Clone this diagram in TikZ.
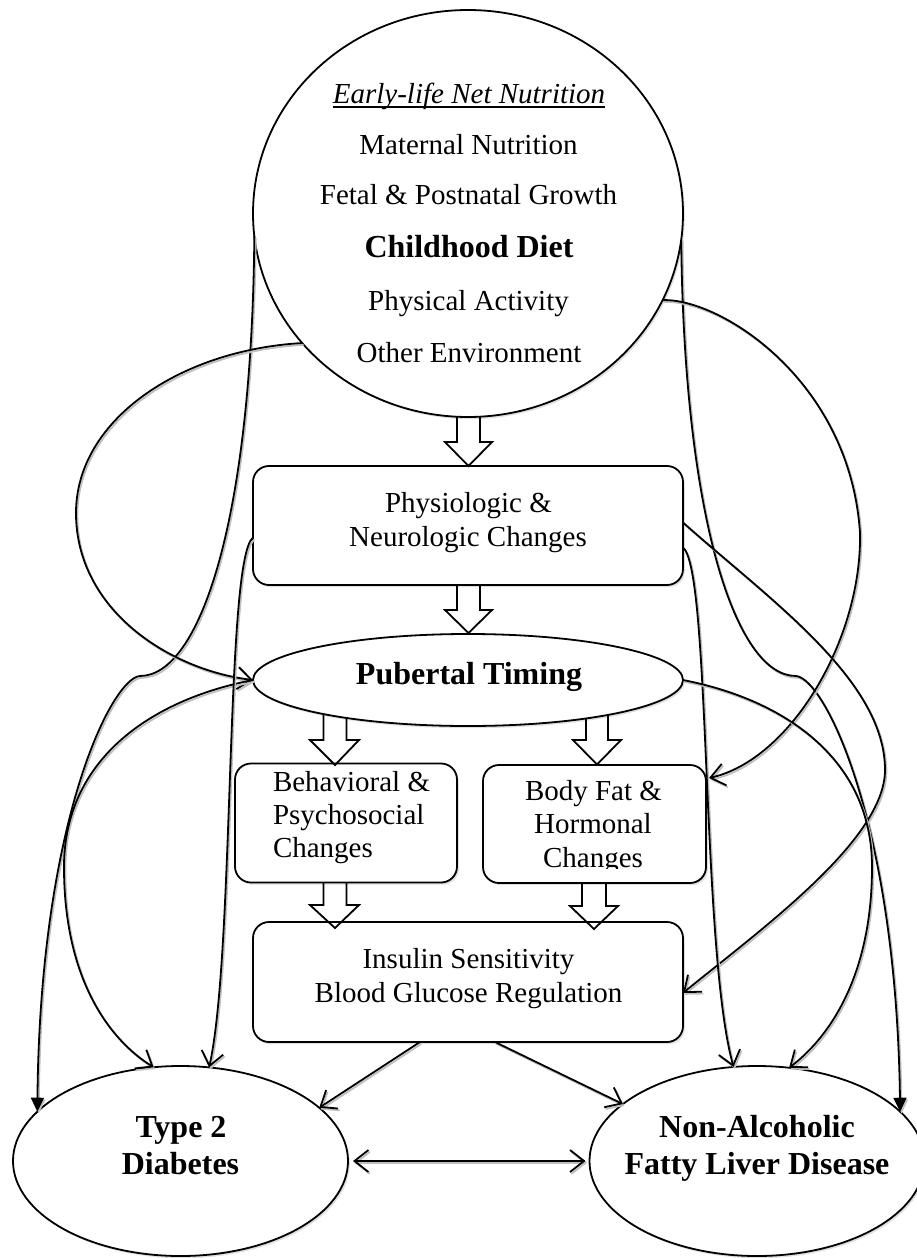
\documentclass[tikz,border=0pt]{standalone}
\usepackage{fontspec}
\setmainfont{Liberation Serif}
\usetikzlibrary{shapes.geometric,arrows.meta,calc,shadows}
\tikzset{
  shp/.style={draw, line width=1.8pt, fill=white, inner sep=0pt, outer sep=0pt,
    drop shadow={shadow xshift=1.8pt, shadow yshift=-2.2pt, fill=black!25}},
  ell/.style={shp, ellipse},
  rbox/.style={shp, rectangle, rounded corners=16pt},
  txt/.style={inner sep=0pt, outer sep=0pt, anchor=base, font={\fontsize{29}{34}\selectfont}},
  btxt/.style={inner sep=0pt, outer sep=0pt, anchor=base, font={\fontsize{32}{37}\selectfont\bfseries}},
  conn/.style={line width=1.8pt,
    preaction={draw=black!25, line width=1.8pt, transform canvas={shift={(1.4pt,-1.8pt)}}}},
  barb/.style={conn, -{Straight Barb[length=14pt,width=22pt]}},
  dbarb/.style={conn, {Straight Barb[length=14pt,width=22pt]}-{Straight Barb[length=14pt,width=22pt]}},
  tri/.style={conn, -{Triangle[length=14pt,width=13pt]}},
  blockarrow/.style={draw, line width=1.8pt, line join=miter}
}
\begin{document}
\begin{tikzpicture}[x=1pt,y=-1pt]
\useasboundingbox (0,0) rectangle (917,1258);

% shapes
\node[ell, minimum width=430pt, minimum height=407pt] (top) at (468,213.5) {};
\node[rbox, minimum width=430pt, minimum height=119pt] (phys) at (468,525.5) {};
\node[ell, minimum width=430pt, minimum height=92pt] (pub) at (468,680) {};
\node[rbox, minimum width=222pt, minimum height=119pt] (beh) at (346,823) {};
\node[rbox, minimum width=223pt, minimum height=118pt] (fat) at (594.5,824) {};
\node[rbox, minimum width=430pt, minimum height=120pt] (ins) at (468,982) {};
\node[ell, minimum width=335pt, minimum height=190pt] (t2d) at (180.5,1161) {};
\node[ell, minimum width=335pt, minimum height=190pt] (naf) at (757,1161) {};

% texts
\node[txt] (t1) at (469,103) {\itshape Early-life Net Nutrition};
\draw[line width=1.4pt] ([yshift=-4pt]t1.base west) -- ([yshift=-4pt]t1.base east);
\node[txt] (t2) at (468.5,154) {Maternal Nutrition};
\node[txt] (t3) at (468.5,204) {Fetal \& Postnatal Growth};
\node[btxt] (t4) at (469,257) {Childhood Diet};
\node[txt] (t5) at (468.5,310) {Physical Activity};
\node[txt] (t6) at (469,362) {Other Environment};

\node[txt] (p1) at (468.5,512) {Physiologic \&};
\node[txt] (p2) at (468,546) {Neurologic Changes};

\node[btxt] (pt) at (469,684) {Pubertal Timing};

\node[txt, anchor=base west] (b1) at (273,791) {Behavioral \&};
\node[txt, anchor=base west] (b2) at (273,824) {Psychosocial};
\node[txt, anchor=base west] (b3) at (273,857) {Changes};

\node[txt] (f1) at (593.5,800) {Body Fat \&};
\node[txt] (f2) at (593,833) {Hormonal};
\begin{scope}
  \clip (483,760) rectangle (706,868);
  \node[txt] (f3) at (593,867) {Changes};
\end{scope}

\node[txt] (i1) at (468.5,968) {Insulin Sensitivity};
\node[txt] (i2) at (468.5,1002) {Blood Glucose Regulation};

\node[btxt] (d1) at (181,1137) {Type 2};
\node[btxt] (d2) at (180.5,1174) {Diabetes};
\node[btxt] (n1) at (757,1137) {Non-Alcoholic};
\node[btxt] (n2) at (757,1174) {Fatty Liver Disease};

% block arrows
\draw[blockarrow] (457,416.7) -- (457,442) -- (445,442) -- (468.5,466) -- (492,442) -- (480,442) -- (480,416.7);
\draw[blockarrow] (457,585) -- (457,610) -- (445,610) -- (468.5,633) -- (492,610) -- (480,610) -- (480,585);
\draw[blockarrow] (323.5,714.1) -- (323.5,740) -- (310,740) -- (335,765) -- (359,740) -- (346.5,740) -- (346.5,717.9);
\draw[blockarrow] (586,718.5) -- (586,740) -- (573,740) -- (597,764.5) -- (621,740) -- (608,740) -- (608,714.9);
\draw[blockarrow] (323.5,882) -- (323.5,905) -- (310,905) -- (335,928) -- (359,905) -- (346.5,905) -- (346.5,882);
\draw[blockarrow] (582,883) -- (582,906) -- (570,906) -- (594,929) -- (618,906) -- (606,906) -- (606,883);

% connectors, left side
\draw[tri] (top.186.4) .. controls (252,520) and (200,676) .. (140,676)
  .. controls (112,678) and (40,820) .. (t2d.161.8);
\draw[barb] (top.218.2) .. controls (180,350) and (76,420) .. (76,513)
  .. controls (76,610) and (170,670) .. (pub.west);
\draw[barb] (pub.west) .. controls (150,700) and (64,760) .. (64,867)
  .. controls (64,980) and (110,1040) .. (t2d.106);
\draw[barb] ($(phys.west)+(0,12)$) .. controls (225,560) and (235,950) .. (t2d.73.9);

% connectors, right side
\draw[tri] (top.353.6) .. controls (684,520) and (736,676) .. (796,676)
  .. controls (824,678) and (896,820) .. (naf.19.1);
\draw[barb] (top.336.3) .. controls (720,298) and (850,380) .. (860,533)
  .. controls (862,640) and (790,760) .. ($(fat.east)+(3,-46)$);
\draw[barb] ($(phys.east)+(0,-3)$) .. controls (770,600) and (885,680) .. (885,770)
  .. controls (885,840) and (760,930) .. ($(ins.east)+(0,11)$);
\draw[barb] ($(phys.east)+(0,22)$) .. controls (711,570) and (701,950) .. (naf.104.8);
\draw[barb] (pub.east) .. controls (786,700) and (872,760) .. (872,867)
  .. controls (872,980) and (826,1040) .. (naf.71.2);

% bottom connectors
\draw[barb] ($(ins.south)+(-48,0)$) -- (t2d.21.1);
\draw[barb] ($(ins.south)+(27,0)$) -- (naf.157.6);
\draw[dbarb] ($(t2d.east)+(5,0)$) -- ($(naf.west)+(-4,0)$);
\end{tikzpicture}
\end{document}
